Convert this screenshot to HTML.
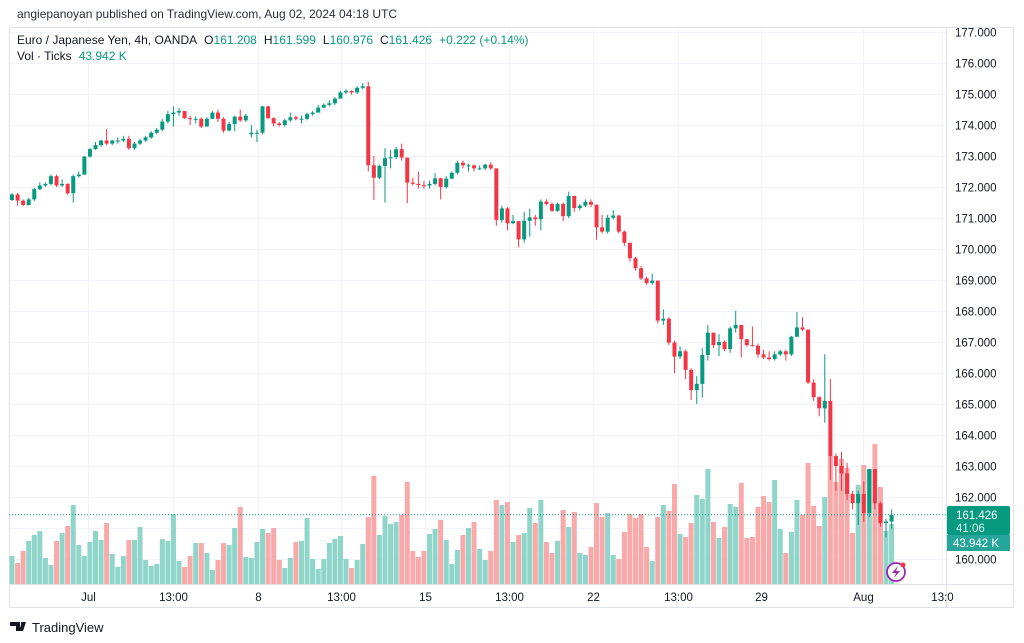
<!DOCTYPE html>
<html><head><meta charset="utf-8">
<style>
body{margin:0;background:#fff;font-family:"Liberation Sans",sans-serif;}
#wrap{position:relative;width:1024px;height:643px;overflow:hidden;background:#fff}
svg text{font-family:"Liberation Sans",sans-serif}
</style></head><body>
<div id="wrap">
<svg id="chart" width="1024" height="643">
  <text x="17" y="18" font-size="12" fill="#2a2e39">angiepanoyan published on TradingView.com, Aug 02, 2024 04:18 UTC</text>
  <rect x="9.5" y="27.5" width="1004" height="580" fill="none" stroke="#e0e3eb"/>
  <line x1="946.5" y1="28" x2="946.5" y2="608" stroke="#e0e3eb"/>
  <line x1="9" y1="584.5" x2="1013" y2="584.5" stroke="#e0e3eb"/>
  <g id="grid"></g>
  <g id="vol"></g>
  <g id="candles"></g>
  <g id="yaxis"></g>
  <g id="xaxis"></g>
  <line id="lastline" x1="9" x2="946" stroke="#089981" stroke-dasharray="1,2"/>
  <g>
    <text x="17" y="44" font-size="12" fill="#131722">Euro / Japanese Yen, 4h, OANDA<tspan dx="7">O</tspan><tspan fill="#089981">161.208</tspan><tspan dx="7">H</tspan><tspan fill="#089981">161.599</tspan><tspan dx="7">L</tspan><tspan fill="#089981">160.976</tspan><tspan dx="7">C</tspan><tspan fill="#089981">161.426</tspan><tspan dx="7" fill="#089981">+0.222 (+0.14%)</tspan></text>
    <text x="17" y="60" font-size="12" fill="#131722">Vol · Ticks<tspan fill="#089981" dx="7">43.942 K</tspan></text>
  </g>
  <g>
    <rect x="947" y="506" width="63" height="29" rx="2" fill="#089981"/>
    <text x="956" y="519" font-size="11.5" fill="#fff">161.426</text>
    <text x="956" y="532" font-size="11.5" fill="#d8f1ec">41:06</text>
    <rect x="947" y="535" width="63" height="16" fill="#26a69a"/>
    <text x="953" y="547" font-size="11.5" fill="#fff">43.942 K</text>
  </g>
  <g>
    <circle cx="896" cy="572" r="9" fill="#fff" stroke="#9c27b0" stroke-width="1.8"/>
    <path d="M898 566 L892 573 L896 573 L894 578 L900 571 L896 571 Z" fill="#9c27b0"/>
    <circle cx="903" cy="565" r="2.5" fill="#f23645"/>
  </g>
  <g>
    <path d="M10 622 h10 v9 h-4 v-5 h-6z M22 622 h4 l-3 9 h-4z" fill="#131722"/>
    <circle cx="22.5" cy="623.5" r="1.6" fill="#131722"/>
    <text x="32" y="632" font-size="13" fill="#131722">TradingView</text>
  </g>
</svg>
</div>
<script>
const opens=[171.58,171.76,171.56,171.42,171.6,171.93,172.05,172.1,172.35,172.05,172.1,171.8,172.35,172.4,172.98,173.22,173.35,173.5,173.4,173.5,173.5,173.55,173.25,173.4,173.5,173.6,173.75,173.85,174.11,174.35,174.4,174.45,174.22,174.2,174.2,173.95,174.2,174.4,174.2,173.82,174.03,174.27,174.15,173.7,173.75,173.75,174.6,174.22,174.05,174.0,174.15,174.25,174.2,174.2,174.35,174.4,174.56,174.65,174.7,174.85,175.05,175.1,175.05,175.2,175.25,172.7,172.3,172.68,172.93,172.96,173.22,172.95,172.14,172.1,172.06,172.05,172.1,172.28,172.0,172.27,172.46,172.78,172.7,172.7,172.6,172.6,172.72,172.6,170.94,171.31,170.83,170.9,170.31,170.91,171.02,170.96,171.53,171.45,171.23,171.45,171.06,171.71,171.32,171.4,171.52,171.43,170.7,170.56,171.01,171.08,170.56,170.2,169.7,169.38,169.05,168.9,168.98,167.69,167.75,166.98,166.53,166.7,166.1,165.45,165.65,166.58,167.3,166.9,167.0,166.77,167.44,167.55,167.09,166.9,166.88,166.6,166.5,166.45,166.6,166.7,166.6,167.17,167.47,167.4,165.69,165.22,164.86,165.1,163.32,163.0,162.76,162.1,161.8,162.1,161.48,162.9,161.8,161.16,161.208];
const closes=[171.76,171.56,171.42,171.6,171.93,172.05,172.1,172.35,172.05,172.1,171.8,172.35,172.4,172.98,173.22,173.35,173.5,173.4,173.5,173.5,173.55,173.25,173.4,173.5,173.6,173.75,173.85,174.11,174.35,174.4,174.45,174.22,174.2,174.2,173.95,174.2,174.4,174.2,173.82,174.03,174.27,174.15,174.3,173.75,173.75,174.6,174.22,174.05,174.0,174.15,174.25,174.2,174.2,174.35,174.4,174.56,174.65,174.7,174.85,175.05,175.1,175.05,175.2,175.25,172.7,172.3,172.68,172.93,172.96,173.22,172.95,172.14,172.1,172.06,172.05,172.1,172.28,172.0,172.27,172.46,172.78,172.7,172.7,172.6,172.6,172.72,172.6,170.94,171.31,170.83,170.9,170.31,170.91,171.02,170.96,171.53,171.45,171.23,171.45,171.06,171.71,171.32,171.4,171.52,171.43,170.7,170.56,171.01,171.08,170.56,170.2,169.7,169.38,169.05,168.9,168.98,167.69,167.75,166.98,166.53,166.7,166.1,165.45,165.65,166.58,167.3,166.9,167.0,166.77,167.44,167.55,167.09,166.9,166.88,166.6,166.5,166.45,166.6,166.7,166.6,167.17,167.47,167.4,165.69,165.22,164.86,165.1,163.32,163.0,162.76,162.1,161.8,162.1,161.48,162.9,161.8,161.16,161.21,161.426];
const highs=[171.8,171.8,171.6,171.65,171.98,172.15,172.15,172.4,172.4,172.25,172.12,172.4,172.5,173.0,173.25,173.45,173.52,173.87,173.52,173.6,173.65,173.65,173.45,173.55,173.65,173.8,173.9,174.2,174.45,174.6,174.55,174.45,174.3,174.28,174.25,174.25,174.45,174.5,174.25,174.1,174.3,174.5,174.35,174.0,173.85,174.62,174.62,174.25,174.1,174.2,174.4,174.3,174.3,174.4,174.45,174.65,174.7,174.8,174.9,175.1,175.15,175.12,175.25,175.35,175.4,173.0,172.72,173.25,173.2,173.3,173.4,172.95,172.3,172.5,172.2,172.2,172.45,172.3,172.35,172.5,172.85,172.85,172.75,172.72,172.7,172.75,172.8,172.6,171.4,171.35,171.1,170.9,171.2,171.3,171.1,171.6,171.6,171.5,171.5,171.5,171.85,171.72,171.45,171.6,171.6,171.43,171.1,171.1,171.25,171.1,170.6,170.2,169.75,169.45,169.1,169.2,168.98,168.05,167.8,167.05,166.85,166.75,166.15,165.9,166.8,167.55,167.3,167.25,167.05,167.5,168.0,167.55,167.1,167.5,166.95,166.75,166.7,166.7,166.75,166.75,167.2,167.97,167.8,167.4,165.8,165.25,166.6,165.8,163.4,163.46,163.1,162.2,162.2,162.5,162.9,162.9,161.85,161.3,161.599];
const lows=[171.55,171.4,171.38,171.4,171.55,171.9,172.0,172.05,172.0,172.0,171.75,171.5,172.3,172.8,172.95,173.2,173.3,173.35,173.35,173.4,173.45,173.2,173.2,173.35,173.45,173.55,173.7,173.8,174.05,173.95,174.3,174.2,174.0,174.05,173.9,173.95,174.2,174.1,173.75,173.8,173.8,174.1,174.1,173.6,173.45,173.7,174.2,173.95,173.95,173.95,174.1,174.15,174.05,174.15,174.3,174.4,174.55,174.6,174.65,174.85,175.0,174.98,175.0,175.15,172.5,171.58,172.25,171.5,172.6,172.9,172.85,171.48,172.05,171.95,171.95,171.95,172.05,171.6,171.95,172.25,172.4,172.6,172.5,172.5,172.55,172.55,172.55,170.75,170.85,170.6,170.8,170.05,170.2,170.4,170.75,170.6,171.4,171.2,171.2,170.9,171.0,171.2,171.25,171.35,171.35,170.3,170.5,170.5,170.95,170.5,170.1,169.6,169.3,169.0,168.85,168.85,167.6,167.55,166.9,166.0,166.45,165.8,165.13,165.0,165.2,166.4,166.8,166.55,166.7,166.65,167.3,166.5,166.85,166.85,166.5,166.45,166.4,166.4,166.55,166.4,166.55,167.15,167.35,165.65,165.1,164.6,164.4,162.55,162.2,162.2,161.9,161.6,161.1,161.2,161.35,161.6,161.05,160.7,160.976];
const volumes=[28,21,33,43,49,53,26,19,43,51,58,79,39,28,42,53,44,61,30,17,28,44,44,57,24,18,20,45,43,70,23,17,28,41,41,31,14,24,41,39,56,77,27,26,42,55,51,56,24,16,26,42,43,66,25,15,25,41,45,48,25,16,24,40,67,108,49,68,60,62,69,102,33,27,33,50,55,64,44,20,34,49,56,62,35,24,33,84,79,82,42,49,51,76,61,84,42,31,43,74,57,72,31,29,37,81,67,71,29,25,52,70,66,70,37,23,67,79,73,100,50,47,61,89,85,115,62,46,57,80,77,101,46,47,77,88,82,104,55,31,52,84,69,121,78,58,87,128,102,125,116,51,99,119,115,140,97,53,60];
const priceTicks=[177,176,175,174,173,172,171,170,169,168,167,166,165,164,163,162,161,160];
const timeLabels=["Jul","13:00","8","13:00","15","13:00","22","13:00","29","Aug","13:0"];
const timeLabelIdx=[13.6,28.9,44.2,59.1,74.2,89.3,104.4,119.6,134.5,152.9,167.1];

const NS="http://www.w3.org/2000/svg";
const X0=12, STEP=5.567, PTOP=177, PY0=32, PPX=31, VBASE=584, VPX=1;
function xs(i){return X0+i*STEP;}
function ys(p){return PY0+(PTOP-p)*PPX;}
function vs(v){return v*VPX;}
function mk(tag,attrs,parent){const e=document.createElementNS(NS,tag);for(const k in attrs)e.setAttribute(k,attrs[k]);parent.appendChild(e);return e;}

const grid=document.getElementById('grid'), yax=document.getElementById('yaxis'), xax=document.getElementById('xaxis');
priceTicks.forEach(p=>{
  const y=Math.round(ys(p))+0.5;
  const l=mk('line',{x1:10,x2:946,y1:y,y2:y,stroke:'#f0f3fa'},grid);
  
  
  const t=mk('text',{x:955,y:y+4,'font-size':11.5,fill:'#131722'},yax);
  t.textContent=p.toFixed(3);
  
  
});
timeLabels.forEach((s,k)=>{
  const x=Math.round(xs(timeLabelIdx[k]))+0.5;
  const l=mk('line',{x1:x,x2:x,y1:28,y2:584,stroke:'#f0f3fa'},grid);
  
  
  const t=mk('text',{x:x,y:601,'font-size':11.5,fill:'#131722','text-anchor':'middle'},xax);
  t.textContent=s;
  
  
});
const vg=document.getElementById('vol'), cg=document.getElementById('candles');
closes.forEach((c,i)=>{
  const o=opens[i], up=c>=o, x=xs(i);
  const h=vs(volumes[i]);
  const vb=mk('rect',{x:x-2.5,y:VBASE-h,width:5,height:h,fill:up?'#8fd5ca':'#f8a9a9'},vg);
  
  
  const col=up?'#089981':'#f23645';
  const w=mk('line',{x1:x,x2:x,y1:ys(highs[i]),y2:ys(lows[i]),stroke:col,'stroke-width':1},cg);
  
  
  const top=ys(Math.max(o,c)), bh=Math.max(1,ys(Math.min(o,c))-top);
  const b=mk('rect',{x:x-2,y:top,width:4,height:bh,fill:col},cg);
  
  
});
const ll=document.getElementById('lastline');
const ly=ys(closes[closes.length-1]);
ll.setAttribute('y1',ly);ll.setAttribute('y2',ly);
</script>
</body></html>
